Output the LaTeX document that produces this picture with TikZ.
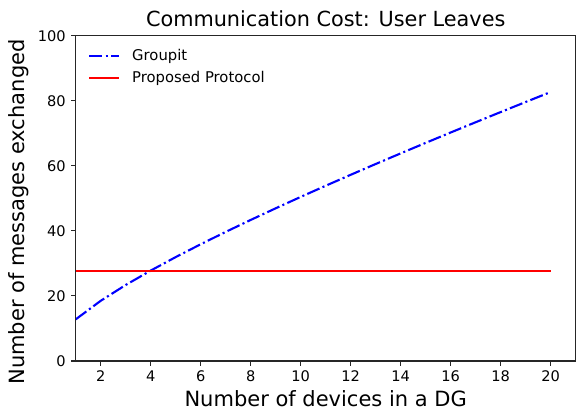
\documentclass[tikz,border=0pt]{standalone}
\usepackage{fontspec}
\setmainfont{DejaVu Sans}
\begin{document}
\begin{tikzpicture}[x=1pt,y=1pt,
  axisline/.style={line width=1.1pt, draw=black!85},
  tickmark/.style={line width=1.1pt, draw=black!85},
  ticklabel/.style={font=\fontsize{14.6}{17}\selectfont, inner sep=0pt},
  axislabel/.style={font=\fontsize{21}{25}\selectfont, inner sep=0pt},
  titlelabel/.style={font=\fontsize{20.8}{25}\selectfont, inner sep=0pt},
  legendlabel/.style={font=\fontsize{14.8}{17}\selectfont, inner sep=0pt, anchor=west},
  groupit/.style={draw=blue, line width=2.1pt,
    dash pattern=on 13.3pt off 3.3pt on 2.1pt off 3.3pt},
  proposed/.style={draw=red, line width=2.1pt}]
\useasboundingbox (0,0) rectangle (576,412);

% plotting area: data x in devices, data y in messages
\begin{scope}[shift={(50.7,51)}, x=25pt, y=3.253pt]
  \coordinate (ll) at (1,0);
  \coordinate (ur) at (21,100);

  % Groupit curve
  \draw[groupit] plot[domain=1:20, samples=20]
    (\x, {2.076*\x + 8.77*sqrt(\x) + 1.95});
  % Proposed protocol: constant cost
  \coordinate (pa) at (1,27.8);
  \coordinate (pb) at (20,27.8);
  \draw[proposed] (pa) -- (pb);

  % frame
  \draw[axisline] (ll) rectangle (ur);

  % x ticks
  \foreach \n in {2,4,...,20} {
    \coordinate (xt\n) at (\n,0);
    \draw[tickmark] (xt\n) -- ++(0,-4.9pt);
    \node[ticklabel, anchor=north] (xl\n) at ([yshift=-9.8pt]xt\n) {\n};
  }
  % y ticks
  \foreach \v in {0,20,...,100} {
    \coordinate (yt\v) at (1,\v);
    \draw[tickmark] (yt\v) -- ++(-4.9pt,0);
    \node[ticklabel, anchor=east] (yl\v) at ([xshift=-9.8pt]yt\v) {\v};
  }
\end{scope}

% axis labels and title
\node[axislabel, anchor=base] (xlabel) at (325.7,5.5) {Number of devices in a DG};
\node[axislabel, rotate=90] (ylabel) at (19,200) {Number of messages exchanged};
\node[titlelabel, anchor=base] (title) at (325.7,385) {Communication Cost: User Leaves};

% legend
\coordinate (lg1a) at (89,356);
\coordinate (lg1b) at (119,356);
\draw[groupit] (lg1a) -- (lg1b);
\node[legendlabel] (lgt1) at (132,356) {Groupit};
\coordinate (lg2a) at (89,334);
\coordinate (lg2b) at (119,334);
\draw[proposed] (lg2a) -- (lg2b);
\node[legendlabel] (lgt2) at (132,334) {Proposed Protocol};
\end{tikzpicture}
\end{document}
